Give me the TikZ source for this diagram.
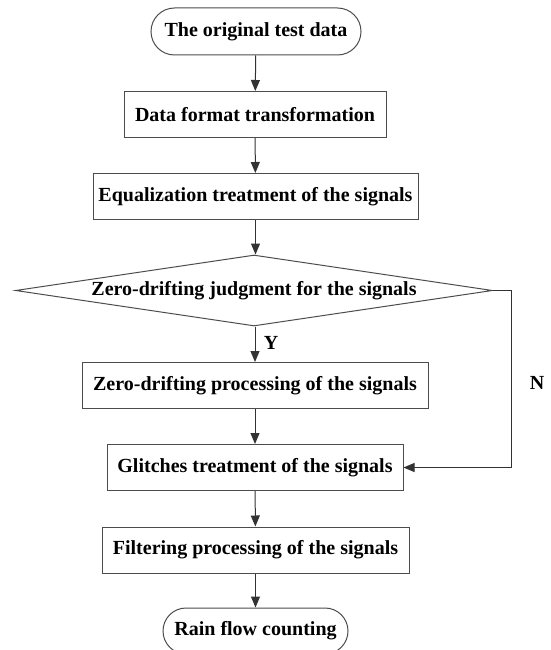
\documentclass[tikz,border=0pt]{standalone}
\usepackage{fontspec}
\setmainfont{Liberation Serif}
\usetikzlibrary{shapes.geometric,shapes.misc,arrows.meta}
\begin{document}
\begin{tikzpicture}[x=1pt,y=-1pt,
    every node/.style={font=\bfseries\fontsize{20}{22}\selectfont},
    term/.style={draw=black!70,line width=1pt,rounded rectangle,minimum height=47pt,inner sep=0pt},
    proc/.style={draw=black!70,line width=1pt,rectangle,minimum height=46pt,inner sep=0pt},
    judge/.style={draw=black!70,line width=1pt,diamond,aspect=6.7,inner sep=0pt,
      minimum width=477pt,minimum height=71pt},
    flow/.style={draw=black!80,line width=1pt,-{Triangle[length=11pt,width=9pt]}}]
  \useasboundingbox (0,0) rectangle (550,650);
  % nodes
  \node[term,minimum width=210pt] (orig) at (256,31.5) {The original test data};
  \node[proc,minimum width=262pt] (fmt) at (255,114.5) {Data format transformation};
  \node[proc,minimum width=325pt] (equal) at (255.5,196.5) {Equalization treatment of the signals};
  \node[judge] (judg) at (254,290.5) {Zero-drifting judgment for the signals};
  \node[proc,minimum width=346pt] (zproc) at (255,385.5) {Zero-drifting processing of the signals};
  \node[proc,minimum width=296pt] (glitch) at (255,467.5) {Glitches treatment of the signals};
  \node[proc,minimum width=307pt] (filt) at (255.5,550) {Filtering processing of the signals};
  \node[term,minimum width=185pt,minimum height=46pt] (rain) at (255.5,631) {Rain flow counting};
  \coordinate (nturn) at (511,290.5);
  % connectors
  \draw[flow] (orig) -- (fmt);
  \draw[flow] (fmt) -- (equal);
  \draw[flow] (equal) -- (judg.north -| equal);
  \draw[flow] (judg.south -| zproc) -- node[right=5pt,pos=0.45] (yes) {Y} (zproc);
  \draw[flow] (zproc) -- (glitch);
  \draw[flow] (glitch) -- (filt);
  \draw[flow] (filt) -- (rain);
  \draw[flow] (judg.east) -- (nturn) |- (glitch.east);
  \node (no) at (537,383) {N};
\end{tikzpicture}
\end{document}
